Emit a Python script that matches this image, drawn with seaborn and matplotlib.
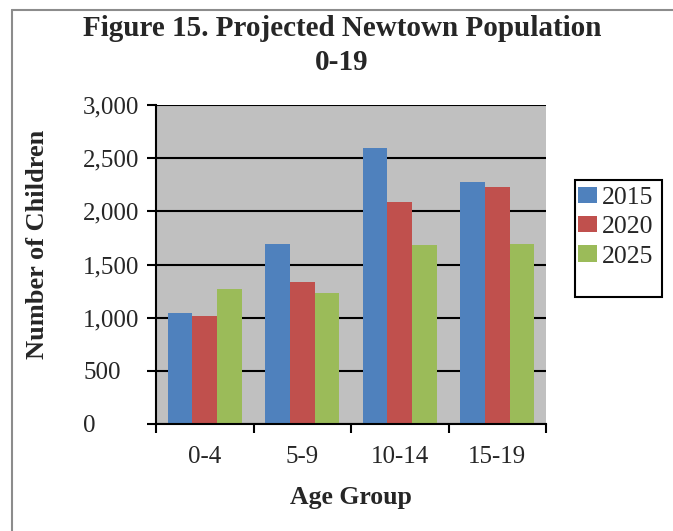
import matplotlib
matplotlib.use("Agg")
import matplotlib.pyplot as plt
from matplotlib.patches import Rectangle
from matplotlib.lines import Line2D
from matplotlib.ticker import FixedLocator, FuncFormatter
import seaborn as sns
import pandas as pd

# Projected population by age group
age_groups = ["0-4", "5-9", "10-14", "15-19"]
years = ["2015", "2020", "2025"]
pop_2015 = [1045, 1695, 2595, 2275]
pop_2020 = [1015, 1335, 2090, 2230]
pop_2025 = [1270, 1235, 1685, 1695]
y_ticks = [0, 500, 1000, 1500, 2000, 2500, 3000]

colors = ["#4F81BD", "#C0504D", "#9BBB59"]

df = pd.DataFrame({
    "Age Group": age_groups * 3,
    "Number of Children": pop_2015 + pop_2020 + pop_2025,
    "Year": [y for y in years for _ in age_groups],
})

sns.set_style("white")
plt.rcParams["font.family"] = ["Liberation Serif", "DejaVu Serif"]

W, H = 673, 531
fig = plt.figure(figsize=(W / 100, H / 100), dpi=100)
ax = fig.add_axes([156 / W, 1 - 424 / H, 390 / W, 319 / H])
ax.set_facecolor("#C0C0C0")

sns.barplot(data=df, x="Age Group", y="Number of Children", hue="Year",
            order=age_groups, hue_order=years, palette=colors,
            width=0.76, gap=0, saturation=1, ax=ax, zorder=3,
            linewidth=0, edgecolor="none")

ax.set_ylim(0, 3000)
ax.set_xlim(-0.5, len(age_groups) - 0.5)

# horizontal gridlines
ax.yaxis.set_major_locator(FixedLocator(y_ticks))
ax.yaxis.set_major_formatter(FuncFormatter(lambda v, p: f"{int(v):,}"))
ax.grid(axis="y", color="black", linewidth=1.5, zorder=1)
ax.grid(axis="x", visible=False)
ax.set_axisbelow(True)

for side in ["top", "right"]:
    ax.spines[side].set_visible(False)
for side in ["left", "bottom"]:
    ax.spines[side].set_visible(True)
    ax.spines[side].set_color("black")
    ax.spines[side].set_linewidth(1.5)
    ax.spines[side].set_zorder(4)

ax.tick_params(axis="y", which="major", direction="out", length=6.5, width=1.5,
               color="black", labelsize=18, pad=46, left=True)
for lbl in ax.get_yticklabels():
    lbl.set_horizontalalignment("left")

# category boundary ticks on the x axis
ax.xaxis.set_minor_locator(FixedLocator([i - 0.5 for i in range(len(age_groups) + 1)]))
ax.tick_params(axis="x", which="minor", direction="out", length=6.5, width=1.5,
               color="black", bottom=True)
ax.tick_params(axis="x", which="major", length=0, labelsize=18, pad=16)

ax.set_xlabel("Age Group", fontsize=18.5, fontweight="bold")
ax.xaxis.set_label_coords(0.5, -0.229)
ax.xaxis.label.set_verticalalignment("center")
ax.set_ylabel("Number of Children", fontsize=19, fontweight="bold")
ax.yaxis.set_label_coords(-0.305, 0.564)
ax.yaxis.label.set_verticalalignment("center")

fig.text(342 / W, 1 - 28 / H, "Figure 15. Projected Newtown Population",
         ha="center", va="center", fontsize=21, fontweight="bold")
fig.text(342 / W, 1 - 63 / H, "0-19",
         ha="center", va="center", fontsize=21, fontweight="bold")

# legend
handles, labels = ax.get_legend_handles_labels()
if ax.legend_:
    ax.legend_.remove()
leg = fig.legend(handles, labels, loc="upper left",
                 bbox_to_anchor=(575 / W, 1 - 184 / H), frameon=False,
                 fontsize=18.5, handlelength=0.75, handleheight=0.6,
                 handletextpad=0.2, labelspacing=0.28, borderaxespad=0,
                 borderpad=0.1)
fig.add_artist(Rectangle((575 / W, 1 - 297 / H), 87 / W, 117 / H,
                         transform=fig.transFigure, fill=False,
                         edgecolor="black", linewidth=1.5))

# outer chart border
fig.add_artist(Line2D([12 / W, 12 / W], [0, 1 - 10 / H], transform=fig.transFigure,
                      color="#8C8C8C", linewidth=1.5))
fig.add_artist(Line2D([12 / W, 1], [1 - 10 / H, 1 - 10 / H], transform=fig.transFigure,
                      color="#8C8C8C", linewidth=1.5))

fig.savefig("out.png", dpi=100)
